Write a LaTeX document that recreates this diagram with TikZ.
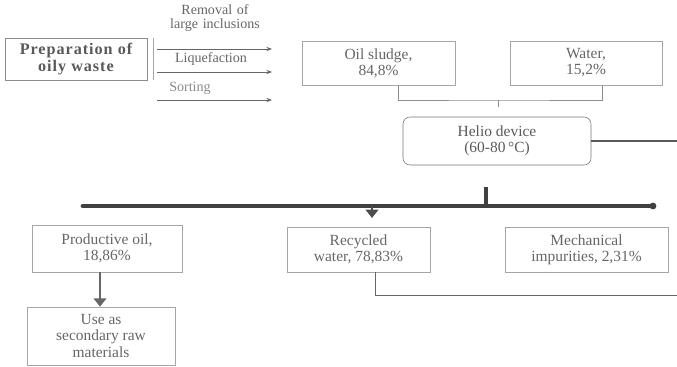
\documentclass[tikz,border=0pt]{standalone}
\usepackage{fontspec}
\setmainfont{Liberation Serif}
\usetikzlibrary{arrows.meta,calc,positioning}

\begin{document}
\begin{tikzpicture}[
		x=0.025cm, y=-0.025cm,
		basic/.style   = {draw=black!35, thin, align=center, text=black!60, font=\fontsize{11}{11.5}\selectfont, inner sep=1pt},
		stage/.style   = {basic, draw=black!45, text=black!65, font=\bfseries\fontsize{11.5}{12}\selectfont\addfontfeatures{LetterSpace=6}},
		part/.style    = {basic},
		device/.style  = {basic, draw=black!55, rounded corners=5pt, text=black!65},
		label/.style   = {align=center, text=black!60, font=\fontsize{10}{10.5}\selectfont, inner sep=1pt},
		feed/.style    = {-{Stealth[length=4pt,width=3pt]}, black!60, semithick},
		pipe/.style    = {black!45, thin},
		bar/.style     = {black!75, line width=3.4pt, line cap=round},
		>=Stealth]
	
	\useasboundingbox (0,0) rectangle (677,367);
	
	% Preparation stage with its three operations
	\node[stage, minimum width=142*0.025cm, minimum height=42*0.025cm] (prep) at (76,59) {Preparation of\\oily waste};
	\draw[black!35] (153,38) -- (153,80);
	
	\node[label, text width=116*0.025cm] (rem) at (215,18) {Removal of\\large inclusions};
	\node[label] (liq) at (211,59) {Liquefaction};
	\node[label, text=black!45] (sort) at (190,88) {Sorting};
	
	\coordinate (r1) at (157,49);  \coordinate (r1e) at (272,49);
	\coordinate (r2) at (157,72);  \coordinate (r2e) at (272,72);
	\coordinate (r3) at (157,100); \coordinate (r3e) at (272,100);
	\foreach \value in {1,2,3}
	\draw[feed] (r\value) -- (r\value e);
	
	% Composition of the oily waste
	\node[part, minimum width=153*0.025cm, minimum height=44*0.025cm] (sludge) at (378.5,63) {Oil sludge,\\84,8\%};
	\node[part, minimum width=152*0.025cm, minimum height=44*0.025cm] (water) at (586,63) {Water,\\15,2\%};
	
	% Helio device
	\node[device, minimum width=188*0.025cm, minimum height=48*0.025cm] (helio) at (497,141) {Helio device\\(60-80\,°C)};
	
	\coordinate (bk) at (498,100);
	\draw[pipe] (sludge.south -| 398,0) |- (bk) -| (water.south -| 602,0);
	\draw[pipe] (bk) -- ++(0,7);
	\draw[black!65, thick] (helio.east) -- (677,141 |- helio.east);
	
	% Distribution bar
	\coordinate (bl) at (83,206);
	\coordinate (br) at (653,206);
	\draw[bar] (bl) -- (br);
	\fill[black!75] (br) circle (3.4);
	\draw[black!75, line width=2.6pt] (486,187) -- (486,206);
	
	% Products
	\node[part, minimum width=150*0.025cm, minimum height=47*0.025cm] (oil) at (107,248.5) {Productive oil,\\18,86\%};
	\node[part, minimum width=143*0.025cm, minimum height=45*0.025cm] (recyc) at (358.5,249.5) {Recycled\\water, 78,83\%};
	\node[part, minimum width=163*0.025cm, minimum height=45*0.025cm] (mech) at (586.5,249.5) {Mechanical\\impurities, 2,31\%};
	\node[part, minimum width=148*0.025cm, minimum height=58*0.025cm] (use) at (101,336) {Use as\\secondary raw\\materials};
	
	\draw[black!70, line width=2pt, -{Triangle[length=6pt,width=9pt]}] (372,206) -- (372,218);
	\draw[black!60, line width=2pt, -{Triangle[length=6pt,width=9pt]}] (oil.south -| 100,0) -- (use.north -| 100,0);
	\draw[black!60, semithick] (recyc.south -| 375,0) |- (677,295);
	
\end{tikzpicture}
\end{document}
